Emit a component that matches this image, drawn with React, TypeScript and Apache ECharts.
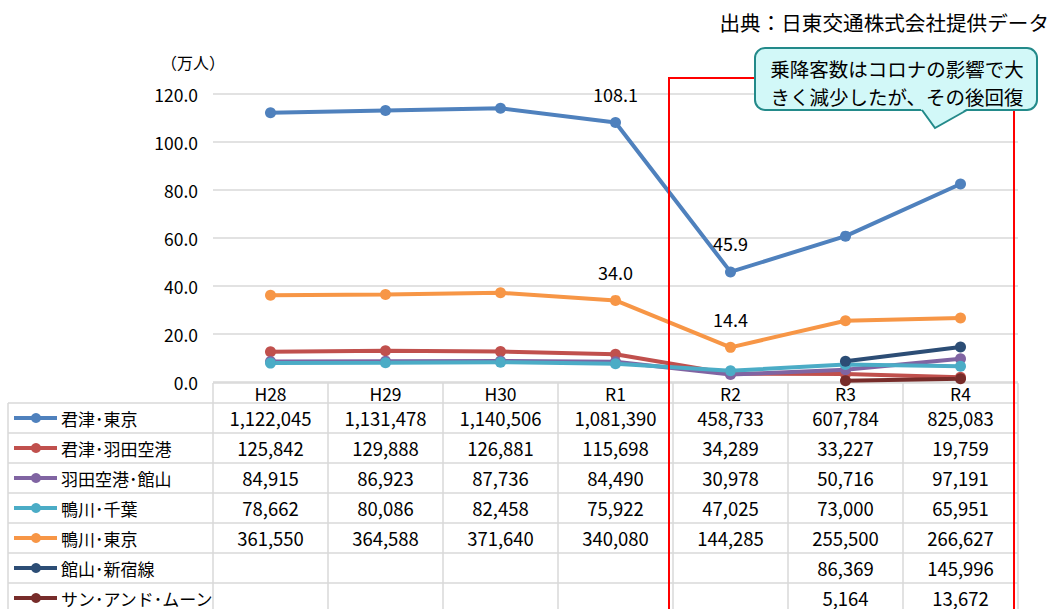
import React, { useEffect, useRef } from "react";
import * as echarts from "echarts";

const categories = ["H28", "H29", "H30", "R1", "R2", "R3", "R4"];
const seriesNames = ["君津･東京", "君津･羽田空港", "羽田空港･館山", "鴨川･千葉", "鴨川･東京", "館山･新宿線", "サン･アンド･ムーン"];
const kisarazuTokyo = [1122045, 1131478, 1140506, 1081390, 458733, 607784, 825083];
const kisarazuHaneda = [125842, 129888, 126881, 115698, 34289, 33227, 19759];
const hanedaTateyama = [84915, 86923, 87736, 84490, 30978, 50716, 97191];
const kamogawaChiba = [78662, 80086, 82458, 75922, 47025, 73000, 65951];
const kamogawaTokyo = [361550, 364588, 371640, 340080, 144285, 255500, 266627];
const tateyamaShinjuku = [null, null, null, null, null, 86369, 145996];
const sunAndMoon = [null, null, null, null, null, 5164, 13672];
const yTicks = [0, 20, 40, 60, 80, 100, 120];
const colors = ["#4f81bd", "#c0504d", "#8064a2", "#4bacc6", "#f79646", "#2c4d75", "#772c2a"];
const labeled: Record<number, number[]> = { 0: [3, 4], 4: [3, 4] };
const calloutText = "乗降客数はコロナの影響で大\nきく減少したが、その後回復";

const FONT = "'Noto Sans CJK JP', 'Noto Sans', sans-serif";

export default function App() {
  const ref = useRef<HTMLDivElement>(null);
  useEffect(() => {
    const chart = echarts.init(ref.current!, null, { renderer: "svg" });
    const all = [kisarazuTokyo, kisarazuHaneda, hanedaTateyama, kamogawaChiba, kamogawaTokyo, tateyamaShinjuku, sunAndMoon];
    const gridL = 213, gridR = 1018, top = 94, bottom = 382;
    const colW = (gridR - gridL) / categories.length;
    const rowH = 30, tableTop = 403;
    const fmt = (v: number | null) => (v == null ? "" : v.toLocaleString("en-US"));

    const graphics: any[] = [];
    const lineStyle = { stroke: "#d9d9d9", lineWidth: 1.5 };
    graphics.push({ type: "line", shape: { x1: gridL, y1: 383, x2: gridR, y2: 383 }, style: lineStyle, z: 1 });
    for (let r = 0; r <= all.length; r++) {
      const y = tableTop + r * rowH;
      graphics.push({ type: "line", shape: { x1: 8, y1: y, x2: gridR, y2: y }, style: lineStyle, z: 1 });
    }
    graphics.push({ type: "line", shape: { x1: 8, y1: tableTop, x2: 8, y2: 620 }, style: lineStyle, z: 1 });
    for (let c = 0; c <= categories.length; c++) {
      const x = gridL + c * colW;
      graphics.push({ type: "line", shape: { x1: x, y1: 383, x2: x, y2: 620 }, style: lineStyle, z: 1 });
    }
    all.forEach((arr, r) => {
      const cy = tableTop + r * rowH + rowH / 2;
      graphics.push({ type: "line", shape: { x1: 14, y1: cy, x2: 57, y2: cy }, style: { stroke: colors[r], lineWidth: 4 }, z: 2 });
      graphics.push({ type: "circle", shape: { cx: 36, cy, r: 5 }, style: { fill: colors[r] }, z: 2 });
      graphics.push({ type: "text", x: 61, y: cy, style: { text: seriesNames[r], font: `17px ${FONT}`, fill: "#000", verticalAlign: "middle", align: "left" }, z: 2 });
      arr.forEach((v, c) => {
        if (v == null) return;
        graphics.push({ type: "text", x: gridL + (c + 0.5) * colW, y: cy, style: { text: fmt(v), font: `18.5px ${FONT}`, fill: "#000", verticalAlign: "middle", align: "center" }, z: 2 });
      });
    });
    graphics.push({ type: "rect", shape: { x: 669, y: 78, width: 345, height: 560 }, style: { fill: "none", stroke: "#ff0000", lineWidth: 2 }, z: 10 });
    graphics.push({ type: "rect", shape: { x: 755, y: 48, width: 282, height: 62, r: 10 }, style: { fill: "#d2f8f8", stroke: "#238a8a", lineWidth: 2 }, z: 11 });
    graphics.push({ type: "polygon", shape: { points: [[920, 108], [935, 128], [968, 108]] }, style: { fill: "#d2f8f8" }, z: 12 });
    graphics.push({ type: "polyline", shape: { points: [[922, 110], [935, 128], [967, 110]] }, style: { stroke: "#238a8a", lineWidth: 2, fill: "none" }, z: 12 });
    graphics.push({ type: "text", x: 897, y: 82, style: { text: calloutText, font: `19.5px ${FONT}`, lineHeight: 28, fill: "#000", align: "center", verticalAlign: "middle" }, z: 13 });
    graphics.push({ type: "text", x: 1049, y: 22, style: { text: "出典：日東交通株式会社提供データ", font: `20.6px ${FONT}`, fill: "#000", align: "right", verticalAlign: "middle" }, z: 13 });
    graphics.push({ type: "text", x: 193, y: 62, style: { text: "（万人）", font: `16px ${FONT}`, fill: "#000", align: "center", verticalAlign: "middle" }, z: 13 });

    chart.setOption({
      animation: false,
      textStyle: { fontFamily: FONT },
      grid: { left: gridL, right: 1051 - gridR, top, bottom: 609 - bottom, containLabel: false },
      xAxis: {
        type: "category",
        data: categories,
        boundaryGap: true,
        axisLine: { show: false },
        axisTick: { show: false },
        axisLabel: { color: "#000", fontSize: 17.5, margin: 3, fontFamily: FONT },
      },
      yAxis: {
        type: "value",
        min: yTicks[0],
        max: yTicks[yTicks.length - 1],
        interval: 20,
        axisLine: { show: false },
        axisTick: { show: false },
        axisLabel: { color: "#000", fontSize: 17.5, margin: 15, fontFamily: FONT, formatter: (v: number) => v.toFixed(1) },
        splitLine: { lineStyle: { color: "#d9d9d9", width: 1.5 } },
      },
      series: all.map((arr, i) => ({
        type: "line",
        name: seriesNames[i],
        data: arr.map((v, c) => {
          if (v == null) return null;
          const val = v / 10000;
          const show = (labeled[i] || []).includes(c);
          return show
            ? { value: val, label: { show: true, position: "top", distance: 14, fontSize: 18, color: "#000", fontFamily: FONT, formatter: (p: any) => p.value.toFixed(1) } }
            : val;
        }),
        color: colors[i],
        lineStyle: { width: 4, color: colors[i] },
        symbol: "circle",
        symbolSize: 11,
        itemStyle: { color: colors[i] },
        connectNulls: false,
        z: 3,
      })),
      graphic: graphics,
    });
    return () => chart.dispose();
  }, []);
  return <div ref={ref} style={{ width: 1051, height: 609, position: "absolute", left: 0, top: 0 }} />;
}
